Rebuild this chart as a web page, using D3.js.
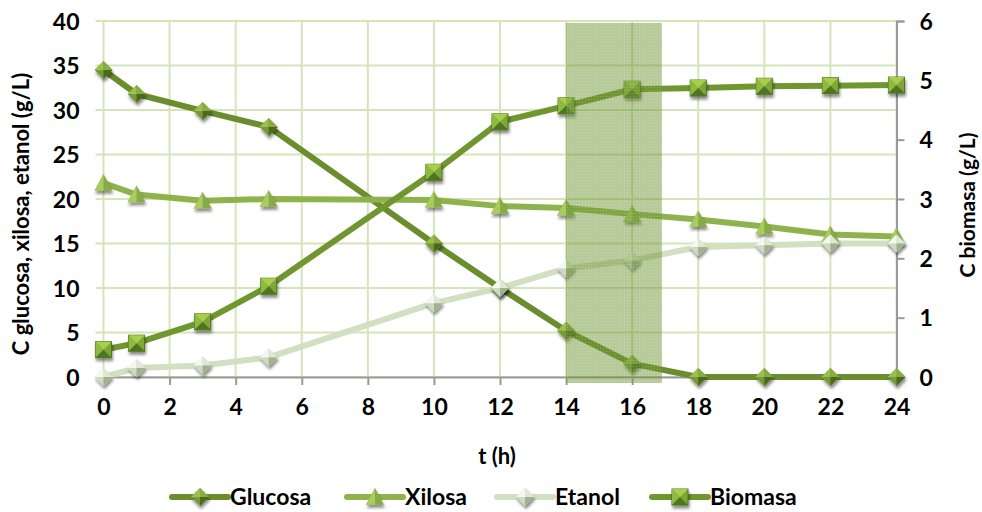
<!DOCTYPE html>
<html><head><meta charset="utf-8">
<script src="https://cdn.jsdelivr.net/npm/d3@7"></script>
<style>
html,body{margin:0;padding:0;background:#fff;}
svg{display:block;font-family:Lato, "Open Sans", sans-serif;font-weight:700;}
</style></head>
<body><svg id="c" width="982" height="512"></svg>
<script>
const hours   = [0, 1, 3, 5, 10, 12, 14, 16, 18, 20, 22, 24];
const glucosa = [34.5, 31.8, 29.9, 28.1, 15.0, 10.0, 5.2, 1.5, 0, 0, 0, 0];
const xilosa  = [21.8, 20.5, 19.8, 20.0, 19.9, 19.2, 19.0, 18.3, 17.7, 16.9, 16.0, 15.8];
const etanol  = [0, 1.0, 1.3, 2.2, 8.3, 10.0, 12.2, 13.1, 14.6, 14.8, 15.0, 15.0];
const biomasa = [0.46, 0.57, 0.93, 1.53, 3.45, 4.30, 4.57, 4.85, 4.87, 4.90, 4.91, 4.92];
const xTicks  = [0, 2, 4, 6, 8, 10, 12, 14, 16, 18, 20, 22, 24];
const leftTicks  = [0, 5, 10, 15, 20, 25, 30, 35, 40];
const rightTicks = [0, 1, 2, 3, 4, 5, 6];
const shadeRange = [14, 16.9];
const seriesNames = ["Glucosa", "Xilosa", "Etanol", "Biomasa"];

const svg = d3.select("#c");
const X0 = 103.5, X1 = 896.5, Y0 = 377, Y1 = 21;
const x = d3.scaleLinear().domain([0, 24]).range([X0, X1]);
const yL = d3.scaleLinear().domain([0, 40]).range([Y0, Y1]);
const yR = d3.scaleLinear().domain([0, 6]).range([Y0, Y1]);

const defs = svg.append("defs");
const f = defs.append("filter").attr("id","sh").attr("x","-50%").attr("y","-50%").attr("width","200%").attr("height","200%");
f.append("feDropShadow").attr("dx",1).attr("dy",3).attr("stdDeviation",1.8).attr("flood-color","#000").attr("flood-opacity",0.45);
const pat = defs.append("pattern").attr("id","hatch").attr("patternUnits","userSpaceOnUse").attr("width",3).attr("height",3);
pat.append("rect").attr("width",3).attr("height",3).attr("fill","rgb(112,150,52)").attr("fill-opacity",0.5);
pat.append("rect").attr("width",1).attr("height",1).attr("fill","#fff").attr("fill-opacity",0.2);

const gridColor = "#d6e4b9";
svg.append("g").selectAll("line").data(leftTicks).join("line")
  .attr("x1", X0 - 8).attr("x2", X1).attr("y1", d => yL(d)).attr("y2", d => yL(d))
  .attr("stroke", gridColor).attr("stroke-width", 2);
svg.append("g").selectAll("line").data(xTicks).join("line")
  .attr("x1", d => x(d)).attr("x2", d => x(d)).attr("y1", Y1).attr("y2", Y0)
  .attr("stroke", gridColor).attr("stroke-width", 2);

const axisColor = "#9a9a9a";
const gx = svg.append("g").attr("transform", `translate(0,${Y0})`)
  .call(d3.axisBottom(x).tickValues(xTicks).tickSize(8).tickPadding(14).tickFormat(d3.format("d")));
const gr = svg.append("g").attr("transform", `translate(${X1},0)`)
  .call(d3.axisRight(yR).tickValues(rightTicks).tickSize(8).tickPadding(15).tickFormat(d3.format("d")));
const gl = svg.append("g").attr("transform", `translate(${X0},0)`)
  .call(d3.axisLeft(yL).tickValues(leftTicks).tickSize(0).tickPadding(24).tickFormat(d3.format("d")));
gl.select(".domain").remove();
[gx, gr].forEach(g => {
  g.select(".domain").attr("stroke", axisColor).attr("stroke-width", 2);
  g.selectAll(".tick line").attr("stroke", axisColor).attr("stroke-width", 2);
});
gx.selectAll(".tick line").filter(d => d === 0).remove();
[gx, gr, gl].forEach(g => g.selectAll("text").attr("font-size", 23).attr("font-weight", 700)
  .attr("font-family", "Lato, sans-serif").attr("fill", "#000"));
gr.selectAll("text").attr("dy", "0.36em");
gl.selectAll("text").attr("dy", "0.36em");

svg.append("text").attr("x", 497).attr("y", 464).attr("text-anchor", "middle")
  .attr("font-size", 22).text("t (h)");
svg.append("text").attr("transform", "translate(29,214) rotate(-90)").attr("text-anchor", "middle")
  .attr("font-size", 22).text("C glucosa, xilosa, etanol (g/L)");
svg.append("text").attr("transform", "translate(975,205) rotate(-90)").attr("text-anchor", "middle")
  .attr("font-size", 21).text("C biomasa (g/L)");

const series = [
  {name: seriesNames[0], vals: glucosa, y: yL, color: "#6a8d2d", shape: "diamond", light: "#9cc04f", dark: "#4a6a1a"},
  {name: seriesNames[1], vals: xilosa,  y: yL, color: "#8fb34c", shape: "triangle", light: "#a8cc60", dark: "#5f8526"},
  {name: seriesNames[2], vals: etanol,  y: yL, color: "#d2dfc1", shape: "diamond", light: "#f4f8ee", dark: "#9fb28a"},
  {name: seriesNames[3], vals: biomasa, y: yR, color: "#70972f", shape: "square", light: "#a6d04a", dark: "#4f7420"}
];

function marker(g, s, cx, cy) {
  const m = g.append("g").attr("transform", `translate(${cx},${cy})`).attr("filter", "url(#sh)");
  const mid = d3.interpolateRgb(s.light, s.dark)(0.45);
  if (s.shape === "diamond") {
    const r = 9;
    m.append("path").attr("d", `M0,${-r}L${r},0L0,${r}L${-r},0Z`).attr("fill", mid);
    m.append("path").attr("d", `M0,${-r}L${-r},0L0,0Z`).attr("fill", s.light);
    m.append("path").attr("d", `M0,${-r}L${r},0L0,0Z`).attr("fill", d3.interpolateRgb(s.light, s.dark)(0.25));
    m.append("path").attr("d", `M0,${r}L${r},0L0,0Z`).attr("fill", s.dark);
  } else if (s.shape === "triangle") {
    const r = 9;
    m.append("path").attr("d", `M0,${-r}L${r},${r*0.85}L${-r},${r*0.85}Z`).attr("fill", mid);
    m.append("path").attr("d", `M0,${-r}L0,${r*0.85}L${-r},${r*0.85}Z`).attr("fill", s.light);
  } else {
    const r = 8;
    m.append("rect").attr("x", -r).attr("y", -r).attr("width", 2*r).attr("height", 2*r).attr("fill", mid)
      .attr("stroke", s.dark).attr("stroke-width", 1);
    m.append("path").attr("d", `M${-r},${-r}L${r},${-r}L0,0Z`).attr("fill", s.light);
    m.append("path").attr("d", `M${-r},${-r}L${-r},${r}L0,0Z`).attr("fill", d3.interpolateRgb(s.light, s.dark)(0.25));
    m.append("path").attr("d", `M${r},${r}L${-r},${r}L0,0Z`).attr("fill", s.dark);
  }
}

const gLines = svg.append("g");
series.forEach(s => {
  const line = d3.line().x((d, i) => x(hours[i])).y(d => s.y(d)).curve(d3.curveLinear);
  gLines.append("path").datum(s.vals).attr("d", line).attr("fill", "none")
    .attr("stroke", s.color).attr("stroke-width", 6).attr("stroke-linejoin", "round");
});
series.forEach(s => {
  const g = svg.append("g");
  s.vals.forEach((v, i) => marker(g, s, x(hours[i]), s.y(v)));
});

svg.append("rect").attr("x", x(shadeRange[0])).attr("y", Y1 + 2)
  .attr("width", x(shadeRange[1]) - x(shadeRange[0])).attr("height", Y0 + 6 - Y1 - 2)
  .attr("fill", "url(#hatch)");

const legX = [172, 347, 497, 652];
const legY = 497;
series.forEach((s, i) => {
  const g = svg.append("g").attr("transform", `translate(${legX[i]},${legY})`);
  g.append("line").attr("x1", 0).attr("x2", 56).attr("stroke", s.color).attr("stroke-width", 6).attr("stroke-linecap", "round");
  marker(g, s, 28, 0);
  g.append("text").attr("x", 58).attr("dy", "0.36em").attr("font-size", 23).text(s.name);
});
</script></body></html>
